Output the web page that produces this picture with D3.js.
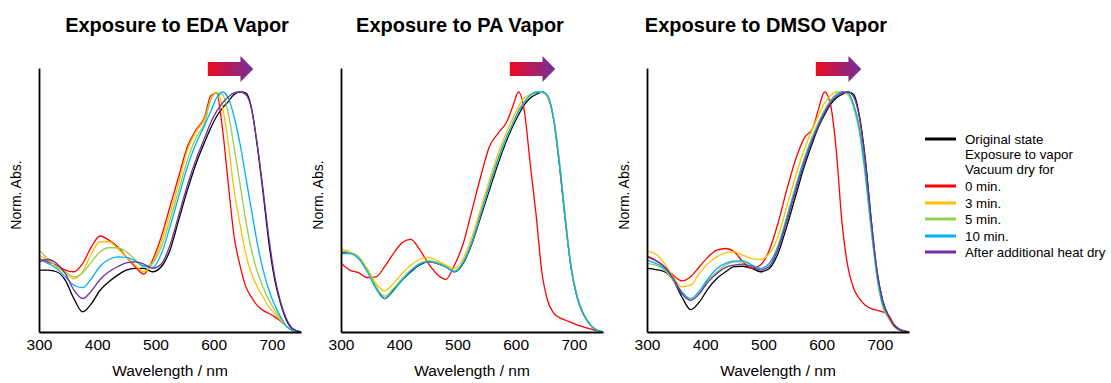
<!DOCTYPE html>
<html>
<head>
<meta charset="utf-8">
<script src="https://cdn.jsdelivr.net/npm/d3@7"></script>
<style>
  body { margin: 0; background: #fff; }
  svg { display: block; font-family: Arial, "Liberation Sans", sans-serif; }
</style>
</head>
<body>
<svg id="chart" width="1111" height="383"></svg>
<script>
// wavelength grid (nm) shared by every spectrum
const wl = [300, 315, 330, 345, 360, 375, 390, 405, 420, 435, 450, 465, 480, 495, 510, 525, 540, 555,
  570, 585, 595, 605, 615, 625, 635, 645, 655, 665, 675, 685, 695, 705, 715, 725, 735, 750];

const seriesNames = ["Original state", "0 min.", "3 min.", "5 min.", "10 min.", "After additional heat dry"];
const seriesColors = ["#000000", "#ff0000", "#ffc000", "#92d050", "#00b0f0", "#7030a0"];

// EDA
const edaOriginal = [.258,.258,.251,.216,.139,.084,.118,.174,.209,.237,.258,.265,.265,.251,.272,.341,.467,.592,.703,.794,.85,.898,.933,.96,.99,1.0,.996,.933,.773,.578,.369,.216,.118,.049,.014,0];
const eda0 = [.306,.292,.279,.258,.251,.286,.355,.40,.383,.355,.313,.272,.241,.299,.397,.522,.648,.773,.843,.898,.985,.995,.85,.62,.40,.28,.19,.145,.11,.09,.077,.063,.046,.024,.007,0];
const eda3 = [.32,.299,.272,.244,.223,.251,.327,.376,.376,.348,.313,.279,.251,.286,.376,.494,.62,.759,.836,.891,.97,1.0,.94,.787,.592,.453,.327,.244,.188,.146,.104,.077,.049,.024,.007,0];
const eda5 = [.341,.306,.274,.251,.23,.247,.292,.334,.351,.351,.334,.302,.272,.286,.355,.467,.592,.717,.812,.874,.967,.995,.99,.912,.773,.62,.467,.341,.251,.185,.132,.091,.056,.024,.007,0];
const eda10 = [.306,.286,.265,.23,.195,.185,.223,.274,.302,.313,.311,.297,.274,.269,.325,.439,.564,.689,.787,.864,.919,.975,1.0,.975,.898,.787,.648,.508,.369,.258,.174,.111,.063,.024,.007,0];
const edaHeat = [.292,.302,.286,.244,.174,.139,.171,.219,.251,.272,.288,.292,.283,.265,.283,.362,.487,.613,.721,.812,.873,.919,.954,.979,.996,1.0,.99,.93,.78,.59,.39,.23,.125,.055,.016,0];

// PA
const paOriginal = [.334,.33,.313,.258,.188,.139,.174,.216,.251,.279,.292,.286,.272,.251,.286,.369,.48,.592,.703,.801,.857,.905,.947,.975,.99,1.0,.98,.89,.70,.47,.27,.15,.08,.04,.013,0];
const pa0 = [.286,.258,.247,.227,.23,.272,.327,.372,.386,.344,.286,.241,.219,.279,.369,.508,.648,.773,.829,.877,.94,1.0,.92,.70,.49,.25,.13,.08,.06,.05,.04,.03,.022,.015,.008,0];
const pa3 = [.345,.334,.313,.265,.202,.171,.202,.244,.279,.302,.311,.297,.279,.265,.306,.397,.515,.634,.745,.836,.891,.94,.975,.99,1.0,.999,.98,.895,.715,.485,.28,.155,.085,.042,.015,0];
const pa5 = [.337,.33,.311,.258,.188,.149,.181,.223,.258,.286,.297,.29,.274,.255,.29,.376,.491,.608,.719,.812,.868,.919,.958,.985,.999,1.0,.985,.892,.71,.48,.275,.152,.083,.041,.014,0];
const pa10 = [.327,.327,.306,.251,.181,.139,.171,.216,.255,.283,.292,.286,.272,.251,.292,.376,.494,.613,.724,.818,.87,.923,.96,.986,.999,1.0,.985,.89,.708,.478,.273,.151,.082,.041,.014,0];

// DMSO
const dmsoOriginal = [.265,.26,.251,.216,.146,.093,.125,.181,.223,.251,.272,.274,.265,.251,.265,.327,.439,.564,.689,.794,.857,.905,.947,.975,.99,1.0,.99,.898,.72,.47,.25,.13,.065,.028,.01,0];
const dmso0 = [.316,.299,.272,.237,.213,.23,.272,.313,.341,.348,.334,.292,.265,.279,.341,.453,.592,.717,.808,.85,.933,1.0,.95,.759,.453,.272,.181,.139,.111,.097,.091,.084,.07,.028,.007,0];
const dmso3 = [.337,.325,.286,.23,.188,.195,.244,.286,.313,.33,.334,.32,.306,.302,.327,.397,.522,.648,.759,.85,.905,.954,.985,1.0,1.0,.99,.947,.857,.675,.439,.23,.104,.056,.021,.007,0];
const dmso5 = [.286,.279,.258,.216,.16,.132,.16,.216,.251,.279,.292,.292,.279,.265,.286,.362,.48,.606,.724,.822,.877,.926,.965,.99,1.0,.99,.933,.829,.648,.425,.23,.111,.063,.024,.007,0];
const dmso10 = [.299,.286,.265,.223,.167,.139,.171,.223,.265,.286,.295,.297,.279,.265,.286,.355,.474,.599,.717,.812,.868,.919,.96,.989,1.0,.996,.947,.843,.662,.439,.237,.111,.063,.024,.007,0];
const dmsoHeat = [.313,.297,.272,.223,.16,.132,.16,.209,.244,.269,.279,.283,.272,.258,.274,.344,.46,.585,.703,.804,.862,.912,.954,.98,.996,1.0,.98,.891,.71,.47,.26,.13,.067,.025,.008,0];

const titles = ["Exposure to EDA Vapor", "Exposure to PA Vapor", "Exposure to DMSO Vapor"];
const xTicks = [300, 400, 500, 600, 700];
const legendLabels = ["Original state", "Exposure to vapor", "Vacuum dry for", "0 min.", "3 min.", "5 min.", "10 min.", "After additional heat dry"];
const legendColors = ["#000000", null, null, "#ff0000", "#ffc000", "#92d050", "#00b0f0", "#7030a0"];

// series per panel, index into seriesColors (PA has no heat-dry curve)
const panelData = [
  [edaOriginal, eda0, eda3, eda5, eda10, edaHeat],
  [paOriginal, pa0, pa3, pa5, pa10, null],
  [dmsoOriginal, dmso0, dmso3, dmso5, dmso10, dmsoHeat]
];

const svg = d3.select("#chart");
const panelLeft = [39, 341, 647];
const titleX = [177, 460, 766];
const plotW = 262, plotTop = 68, plotH = 264;

const x = d3.scaleLinear().domain([300, 750]).range([0, plotW]);
const y = d3.scaleLinear().domain([0, 1.1]).range([plotH, 0]);

const defs = svg.append("defs");
const grad = defs.append("linearGradient").attr("id", "arrowGrad");
grad.append("stop").attr("offset", "0%").attr("stop-color", "#ee0a1e");
grad.append("stop").attr("offset", "100%").attr("stop-color", "#7030a0");

const line = d3.line()
  .x((d, i) => x(wl[i]))
  .y(d => y(d))
  .curve(d3.curveMonotoneX);

panelData.forEach((sets, p) => {
  svg.append("text")
    .attr("x", titleX[p]).attr("y", 32)
    .attr("text-anchor", "middle")
    .attr("font-size", 20).attr("font-weight", "bold")
    .text(titles[p]);

  const g = svg.append("g").attr("transform", `translate(${panelLeft[p]},${plotTop})`);

  // spectra
  sets.forEach((vals, s) => {
    if (!vals) return;
    g.append("path")
      .datum(vals)
      .attr("fill", "none")
      .attr("stroke", seriesColors[s])
      .attr("stroke-width", 1.3)
      .attr("d", line);
  });

  // axes
  const xa = g.append("g").attr("transform", `translate(0,${plotH})`)
    .call(d3.axisBottom(x).tickValues(xTicks).tickSize(0).tickSizeOuter(0).tickPadding(7));
  xa.selectAll("text").attr("font-size", 15.5).attr("font-family", "Arial, 'Liberation Sans', sans-serif").attr("fill", "#000");
  xa.select(".domain").attr("stroke", "#000").attr("stroke-width", 1.8);

  const ya = g.append("g")
    .call(d3.axisLeft(y).tickValues([]).tickSizeOuter(0));
  ya.select(".domain").attr("stroke", "#000").attr("stroke-width", 1.8);

  g.append("text")
    .attr("x", plotW / 2).attr("y", 376 - plotTop)
    .attr("text-anchor", "middle")
    .attr("font-size", 15.5)
    .text("Wavelength / nm");

  g.append("text")
    .attr("transform", `translate(-18,${195 - plotTop}) rotate(-90)`)
    .attr("text-anchor", "middle")
    .attr("font-size", 14)
    .text("Norm. Abs.");

  // shift arrow
  const a0 = x(590), a1 = x(646), a2 = x(668);
  g.append("path")
    .attr("d", `M${a0},-6 H${a1} V-12 L${a2},1 L${a1},14 V8 H${a0} Z`)
    .attr("fill", "url(#arrowGrad)");
});

// legend
const leg = svg.append("g").attr("transform", "translate(925,0)");
const legY = [139, 154, 169, 186, 203, 219, 236, 252];
legendLabels.forEach((lab, i) => {
  if (legendColors[i]) {
    leg.append("line")
      .attr("x1", 0).attr("x2", 31)
      .attr("y1", legY[i]).attr("y2", legY[i])
      .attr("stroke", legendColors[i]).attr("stroke-width", 3);
  }
  leg.append("text")
    .attr("x", 40).attr("y", legY[i] + 4.5)
    .attr("font-size", 13.3)
    .text(lab);
});
</script>
</body>
</html>
